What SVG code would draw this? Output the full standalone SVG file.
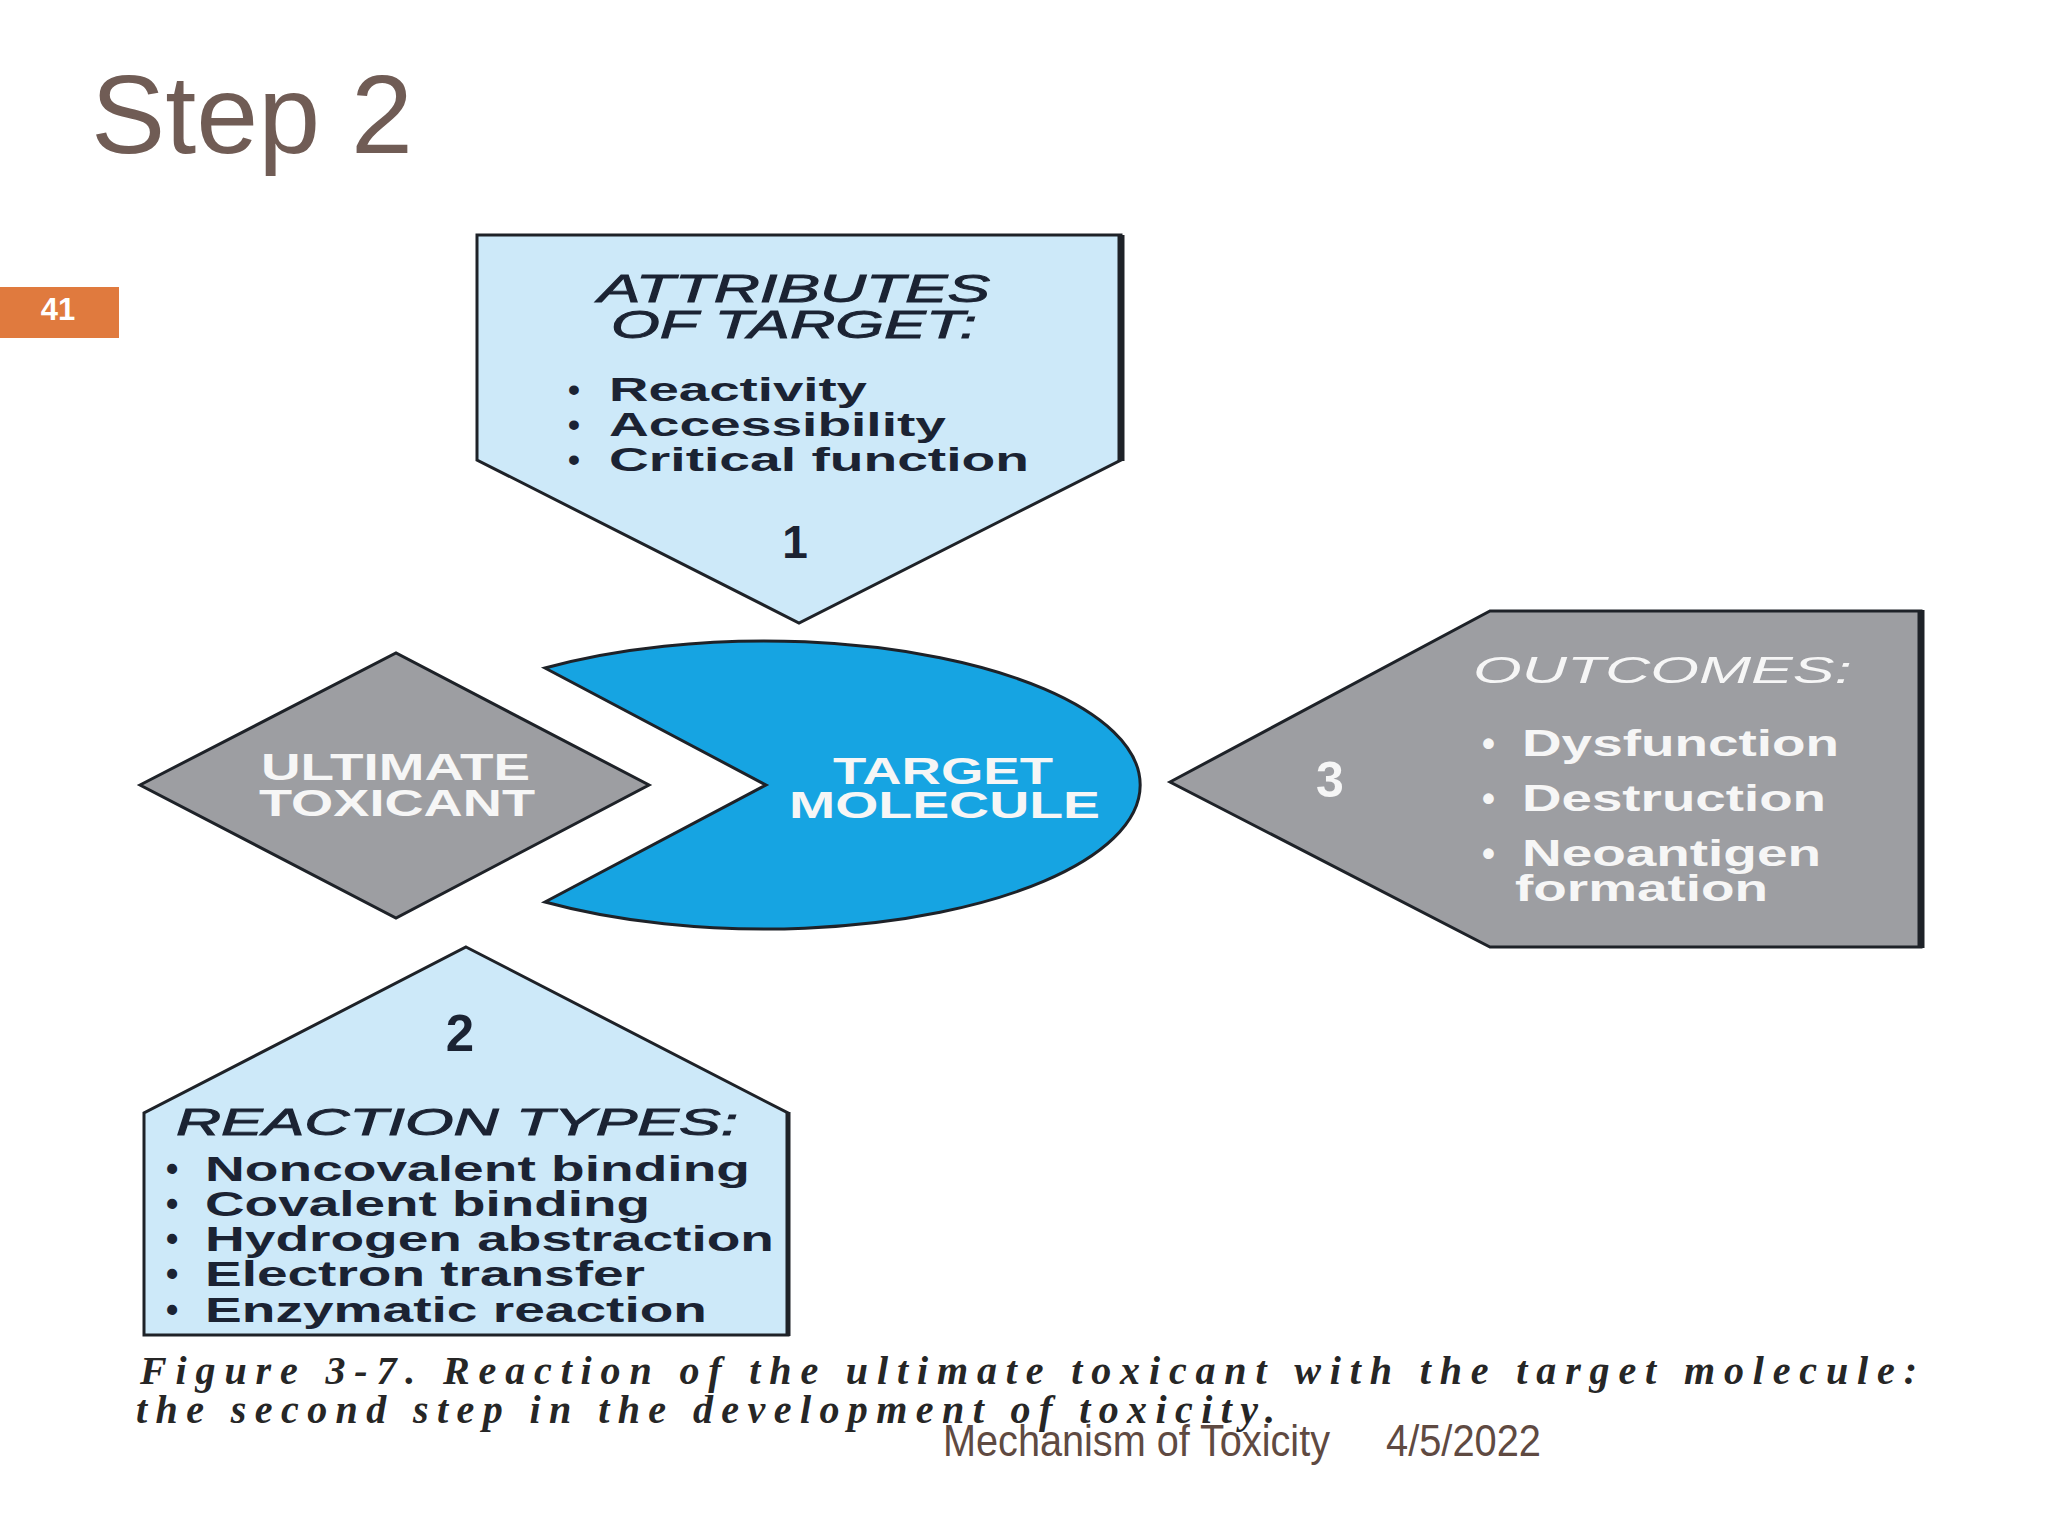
<svg xmlns="http://www.w3.org/2000/svg" width="2048" height="1536" viewBox="0 0 2048 1536">
<style>
.shape{stroke:#1e2228;stroke-width:3;stroke-linejoin:miter}
.blue{fill:#cde9f9}
.gray{fill:#9d9ea2}
.cyan{fill:#16a4e2}
.dk{font-family:"Liberation Sans",Arial,sans-serif;font-weight:bold;fill:#1b2333}
.wt{font-family:"Liberation Sans",Arial,sans-serif;font-weight:bold;fill:#f6f6f6}
.hd{font-style:italic;font-weight:normal}
.dk.hd{stroke:#1b2333;stroke-width:0.9}
.cap{font-family:"Liberation Serif","Times New Roman",serif;font-weight:bold;font-style:italic;fill:#262626;font-size:40px}
.ft{font-family:"Liberation Sans",Arial,sans-serif;fill:#5f4a42;font-size:44px}
</style>
<rect width="2048" height="1536" fill="#ffffff"/>

<g id="title">
<text x="91" y="153" font-family="Liberation Sans, Arial, sans-serif" font-size="112" fill="#705c55" textLength="322" lengthAdjust="spacingAndGlyphs">Step 2</text>
</g>

<g id="slide-number">
<rect x="0" y="287" width="119" height="51" fill="#e07a3e"/>
<text x="58" y="320" text-anchor="middle" font-family="Liberation Sans, Arial, sans-serif" font-weight="bold" font-size="31" fill="#ffffff">41</text>
</g>

<g id="connectors"></g>

<g id="attributes-of-target">
<polygon class="shape blue" points="477,235 1121,235 1121,460 799,623 477,460"/>
<line x1="1121" y1="235" x2="1121" y2="461" stroke="#1e2228" stroke-width="7"/>
<text class="dk hd" x="598" y="302" font-size="39" textLength="392" lengthAdjust="spacingAndGlyphs">ATTRIBUTES</text>
<text class="dk hd" x="611" y="338" font-size="39" textLength="366" lengthAdjust="spacingAndGlyphs">OF TARGET:</text>
<text class="dk" x="568" y="401" font-size="34">•</text>
<text class="dk" x="609" y="401" font-size="34" textLength="258" lengthAdjust="spacingAndGlyphs">Reactivity</text>
<text class="dk" x="568" y="436" font-size="34">•</text>
<text class="dk" x="609" y="436" font-size="34" textLength="337" lengthAdjust="spacingAndGlyphs">Accessibility</text>
<text class="dk" x="568" y="471" font-size="34">•</text>
<text class="dk" x="609" y="471" font-size="34" textLength="420" lengthAdjust="spacingAndGlyphs">Critical function</text>
<text class="dk" x="795" y="558" font-size="46" text-anchor="middle">1</text>
</g>

<g id="ultimate-toxicant">
<polygon class="shape gray" points="140,785 396,653 649,785 396,918"/>
<text class="wt" x="261" y="780" font-size="37" textLength="269" lengthAdjust="spacingAndGlyphs">ULTIMATE</text>
<text class="wt" x="259" y="816" font-size="37" textLength="276" lengthAdjust="spacingAndGlyphs">TOXICANT</text>
</g>

<g id="target-molecule">
<path class="shape cyan" d="M545,668 A376,144 0 1 1 545,902 L766,785 Z"/>
<text class="wt" x="833" y="784" font-size="36" textLength="220" lengthAdjust="spacingAndGlyphs">TARGET</text>
<text class="wt" x="789" y="818" font-size="36" textLength="311" lengthAdjust="spacingAndGlyphs">MOLECULE</text>
</g>

<g id="outcomes">
<polygon class="shape gray" points="1170,782 1490,611 1921,611 1921,947 1490,947"/>
<line x1="1921" y1="610" x2="1921" y2="948" stroke="#1e2228" stroke-width="7"/>
<text class="wt hd" x="1473" y="683" font-size="37" textLength="379" lengthAdjust="spacingAndGlyphs">OUTCOMES:</text>
<text class="wt" x="1330" y="797" font-size="50" text-anchor="middle">3</text>
<text class="wt" x="1482" y="756" font-size="37">•</text>
<text class="wt" x="1522" y="756" font-size="37" textLength="317" lengthAdjust="spacingAndGlyphs">Dysfunction</text>
<text class="wt" x="1482" y="811" font-size="37">•</text>
<text class="wt" x="1522" y="811" font-size="37" textLength="304" lengthAdjust="spacingAndGlyphs">Destruction</text>
<text class="wt" x="1482" y="866" font-size="37">•</text>
<text class="wt" x="1522" y="866" font-size="37" textLength="299" lengthAdjust="spacingAndGlyphs">Neoantigen</text>
<text class="wt" x="1515" y="901" font-size="37" textLength="253" lengthAdjust="spacingAndGlyphs">formation</text>
</g>

<g id="reaction-types">
<polygon class="shape blue" points="466,947 788,1113 788,1335 144,1335 144,1113"/>
<line x1="788" y1="1112" x2="788" y2="1336" stroke="#1e2228" stroke-width="5"/>
<text class="dk" x="460" y="1051" font-size="51" text-anchor="middle">2</text>
<text class="dk hd" x="176" y="1135" font-size="37" textLength="562" lengthAdjust="spacingAndGlyphs">REACTION TYPES:</text>
<text class="dk" x="166" y="1181" font-size="35">•</text>
<text class="dk" x="205" y="1181" font-size="35" textLength="545" lengthAdjust="spacingAndGlyphs">Noncovalent binding</text>
<text class="dk" x="166" y="1216" font-size="35">•</text>
<text class="dk" x="205" y="1216" font-size="35" textLength="445" lengthAdjust="spacingAndGlyphs">Covalent binding</text>
<text class="dk" x="166" y="1251" font-size="35">•</text>
<text class="dk" x="205" y="1251" font-size="35" textLength="569" lengthAdjust="spacingAndGlyphs">Hydrogen abstraction</text>
<text class="dk" x="166" y="1286" font-size="35">•</text>
<text class="dk" x="205" y="1286" font-size="35" textLength="440" lengthAdjust="spacingAndGlyphs">Electron transfer</text>
<text class="dk" x="166" y="1322" font-size="35">•</text>
<text class="dk" x="205" y="1322" font-size="35" textLength="502" lengthAdjust="spacingAndGlyphs">Enzymatic reaction</text>
</g>

<g id="caption">
<text class="cap" x="140" y="1384" textLength="1777" lengthAdjust="spacing">Figure 3-7. Reaction of the ultimate toxicant with the target molecule:</text>
<text class="cap" x="136" y="1423" textLength="1139" lengthAdjust="spacing">the second step in the development of toxicity.</text>
</g>

<g id="footer">
<text class="ft" x="943" y="1456" textLength="387" lengthAdjust="spacingAndGlyphs">Mechanism of Toxicity</text>
<text class="ft" x="1386" y="1456" textLength="155" lengthAdjust="spacingAndGlyphs">4/5/2022</text>
</g>
</svg>
